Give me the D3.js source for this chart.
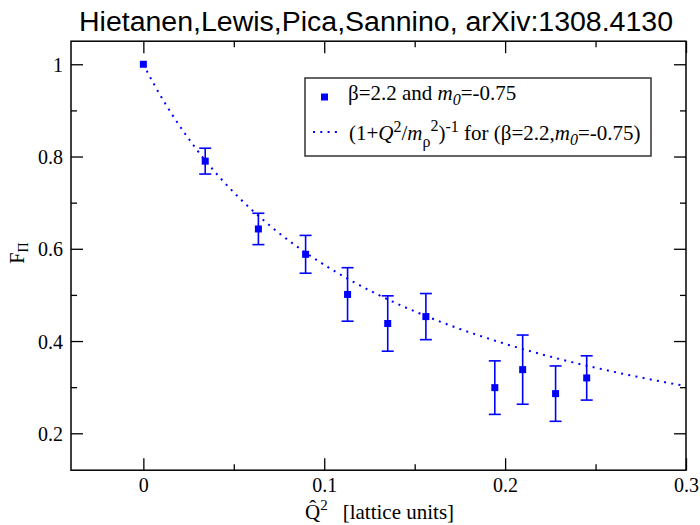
<!DOCTYPE html>
<html lang="en">
<head>
    <meta charset="UTF-8">
    <title>F_pi vs Q^2</title>
    <script src="https://d3js.org/d3.v7.min.js"></script>
    <style>
        html, body {margin: 0; padding: 0; background: #fff; overflow: hidden}
        svg text {font-family: 'Liberation Serif', 'Times New Roman', serif;}
        .title {font-family: 'Liberation Sans', 'DejaVu Sans', sans-serif !important;}
    </style>
</head>
<body>
<svg id="chart" width="700" height="525"></svg>
<script>
// data
const q2     = [0, 0.0342, 0.0636, 0.0897, 0.1129, 0.1351, 0.1562, 0.1943, 0.2097, 0.2279, 0.2451];
const fpi    = [1.0, 0.790, 0.643, 0.588, 0.501, 0.438, 0.453, 0.299, 0.338, 0.286, 0.320];
const fpiErr = [0, 0.028, 0.034, 0.041, 0.058, 0.060, 0.050, 0.058, 0.075, 0.060, 0.048];
// fit (1+Q^2/m_rho^2)^-1
const mRho2 = 0.13;
const fitRange = [0, 0.3];

const xTicks = [0, 0.1, 0.2, 0.3];
const xMinor = [0.05, 0.15, 0.25];
const yTicks = [0.2, 0.4, 0.6, 0.8, 1];
const yMinor = [0.3, 0.5, 0.7, 0.9];

const blue = '#0000ff';
let svg = d3.select('#chart');

let x = d3.scaleLinear().domain([-0.04, 0.3]).range([71, 686]);
let y = d3.scaleLinear().domain([0.12, 1.05]).range([470.2, 41.2]);

// axes (ticks inside, on all 4 sides)
function axis(gen, vals, size, labels, tr){
    let g = svg.append('g').attr('transform', tr)
        .call(gen.tickValues(vals).tickSize(size).tickPadding(labels ? 8 : 0)
            .tickFormat(labels ? d3.format('') : ''));
    g.select('.domain').remove();
    g.selectAll('line').attr('stroke', '#000').attr('stroke-width', 1.3);
    g.selectAll('text').attr('font-size', 20).attr('fill', '#000');
    return g;
}
axis(d3.axisBottom(x), xTicks, -12, true, `translate(0,${y.range()[0]})`);
axis(d3.axisBottom(x), xMinor, -6, false, `translate(0,${y.range()[0]})`);
axis(d3.axisTop(x), xTicks, -12, false, `translate(0,${y.range()[1]})`);
axis(d3.axisTop(x), xMinor, -6, false, `translate(0,${y.range()[1]})`);
axis(d3.axisLeft(y), yTicks, -12, true, `translate(${x.range()[0]},0)`)
    .selectAll('text').attr('dy', '0.35em');
axis(d3.axisLeft(y), yMinor, -6, false, `translate(${x.range()[0]},0)`);
axis(d3.axisRight(y), yTicks, -12, false, `translate(${x.range()[1]},0)`);
axis(d3.axisRight(y), yMinor, -6, false, `translate(${x.range()[1]},0)`);

svg.append('rect')
    .attr('x', x.range()[0]).attr('y', y.range()[1])
    .attr('width', x.range()[1] - x.range()[0]).attr('height', y.range()[0] - y.range()[1])
    .attr('fill', 'none').attr('stroke', '#000').attr('stroke-width', 1.5);

// fit curve
let fitQ = d3.range(fitRange[0], fitRange[1] + 1e-9, 0.0025);
let line = d3.line().x(d => x(d)).y(d => y(1 / (1 + d / mRho2)));
svg.append('path').datum(fitQ).attr('d', line)
    .attr('fill', 'none').attr('stroke', blue).attr('stroke-width', 2)
    .attr('stroke-dasharray', '2 5.3');

// error bars
let pts = q2.map((q, i) => ({q: q, f: fpi[i], e: fpiErr[i]}));
let eb = svg.append('g').selectAll('g').data(pts.filter(d => d.e > 0)).join('g')
    .attr('stroke', blue).attr('stroke-width', 1.6);
eb.append('line').attr('x1', d => x(d.q)).attr('x2', d => x(d.q))
    .attr('y1', d => y(d.f + d.e)).attr('y2', d => y(d.f - d.e));
eb.append('line').attr('x1', d => x(d.q) - 6).attr('x2', d => x(d.q) + 6)
    .attr('y1', d => y(d.f + d.e)).attr('y2', d => y(d.f + d.e));
eb.append('line').attr('x1', d => x(d.q) - 6).attr('x2', d => x(d.q) + 6)
    .attr('y1', d => y(d.f - d.e)).attr('y2', d => y(d.f - d.e));

// markers
svg.append('g').selectAll('rect').data(pts).join('rect')
    .attr('x', d => x(d.q) - 3.5).attr('y', d => y(d.f) - 3.5)
    .attr('width', 7).attr('height', 7).attr('fill', blue);

// title
svg.append('text').attr('class', 'title')
    .attr('x', 376).attr('y', 31).attr('text-anchor', 'middle')
    .attr('font-size', 27).attr('textLength', 594).attr('lengthAdjust', 'spacingAndGlyphs')
    .text('Hietanen,Lewis,Pica,Sannino, arXiv:1308.4130');

// x label
let xl = svg.append('text').attr('x', 305).attr('y', 519).attr('font-size', 21);
xl.append('tspan').text('Q\u0302');
xl.append('tspan').attr('font-size', 15).attr('dy', -9).text('2');
xl.append('tspan').attr('dy', 9).attr('dx', 15).text('[lattice units]');

// y label
let yl = svg.append('text').attr('transform', 'translate(24,253) rotate(-90)')
    .attr('text-anchor', 'middle').attr('font-size', 20);
yl.append('tspan').text('F');
yl.append('tspan').attr('font-size', 14).attr('dy', 4).text('Π');

// legend
svg.append('rect').attr('x', 305).attr('y', 78).attr('width', 346).attr('height', 78)
    .attr('fill', '#fff').attr('stroke', '#333').attr('stroke-width', 1.5);
svg.append('rect').attr('x', 321).attr('y', 93.5).attr('width', 7).attr('height', 7).attr('fill', blue);
svg.append('line').attr('x1', 313).attr('x2', 338).attr('y1', 132).attr('y2', 132)
    .attr('stroke', blue).attr('stroke-width', 2).attr('stroke-dasharray', '2 5.3');

let l1 = svg.append('text').attr('x', 348).attr('y', 100).attr('font-size', 21);
l1.append('tspan').text('β=2.2 and ');
l1.append('tspan').attr('font-style', 'italic').text('m');
l1.append('tspan').attr('font-style', 'italic').attr('font-size', 16).attr('dy', 5).text('0');
l1.append('tspan').attr('dy', -5).text('=-0.75');

let l2 = svg.append('text').attr('x', 349).attr('y', 140).attr('font-size', 21);
l2.append('tspan').text('(1+');
l2.append('tspan').attr('font-style', 'italic').text('Q');
l2.append('tspan').attr('font-size', 16).attr('dy', -8).text('2');
l2.append('tspan').attr('dy', 8).text('/');
l2.append('tspan').attr('font-style', 'italic').text('m');
l2.append('tspan').attr('font-size', 16).attr('dy', 7).text('ρ');
l2.append('tspan').attr('font-size', 16).attr('dy', -16).text('2');
l2.append('tspan').attr('dy', 9).text(')');
l2.append('tspan').attr('font-size', 16).attr('dy', -8).text('-1');
l2.append('tspan').attr('dy', 8).text(' for (β=2.2,');
l2.append('tspan').attr('font-style', 'italic').text('m');
l2.append('tspan').attr('font-style', 'italic').attr('font-size', 16).attr('dy', 5).text('0');
l2.append('tspan').attr('dy', -5).text('=-0.75)');
</script>
</body>
</html>
